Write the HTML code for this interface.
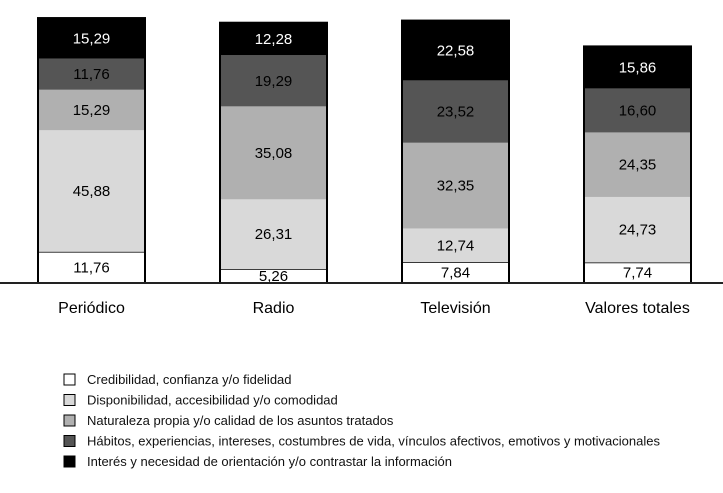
<!DOCTYPE html>
<html><head><meta charset="utf-8"><style>
body{margin:0;background:#fff}
svg{display:block;font-family:"Liberation Sans",sans-serif}
</style></head><body>
<svg id="c" width="723" height="493"></svg>
<script>
const categories=["Periódico","Radio","Televisión","Valores totales"];
const seriesNames=["Credibilidad, confianza y/o fidelidad","Disponibilidad, accesibilidad y/o comodidad","Naturaleza propia y/o calidad de los asuntos tratados","Hábitos, experiencias, intereses, costumbres de vida, vínculos afectivos, emotivos y motivacionales","Interés y necesidad de orientación y/o contrastar la información"];
const credibilidad=[11.76,5.26,7.84,7.74];
const disponibilidad=[45.88,26.31,12.74,24.73];
const naturaleza=[15.29,35.08,32.35,24.35];
const habitos=[11.76,19.29,23.52,16.60];
const interes=[15.29,12.28,22.58,15.86];
const series=[credibilidad,disponibilidad,naturaleza,habitos,interes];
const colors=["#ffffff","#d9d9d9","#b0b0b0","#555555","#000000"];
const textColors=["#000","#000","#000","#000","#fff"];
const NS="http://www.w3.org/2000/svg";
const svg=document.getElementById("c");
const base=283, k=2.65, x0=38, step=182, bw=107;
const yScale=v=>base-v*k;
const xScale=i=>x0+i*step;
function el(t,a){const e=document.createElementNS(NS,t);for(const n in a)e.setAttribute(n,a[n]);svg.appendChild(e);return e;}
categories.forEach((c,i)=>{
  let cum=0;const x=xScale(i);
  series.forEach((s,j)=>{
    const v=s[i];const y1=yScale(cum+v),y0=yScale(cum);
    const r=el("rect",{x:x,y:y1,width:bw,height:y0-y1,fill:colors[j],stroke:"#000","stroke-width":j===0?1.5:0});
    
    
    cum+=v;
  });
  const top=yScale(cum);
  const o=el("rect",{x:x,y:top,width:bw,height:base-top,fill:"none",stroke:"#000","stroke-width":2});
  
  
  cum=0;
  series.forEach((s,j)=>{
    const v=s[i];const yc=Math.min((yScale(cum)+yScale(cum+v))/2+5,base-2);
    const t=el("text",{x:x+bw/2,y:yc,"text-anchor":"middle","font-size":15,fill:textColors[j]});
    t.textContent=v.toFixed(2).replace(".",",");
    
    
    cum+=v;
  });
  const l=el("text",{x:x+bw/2,y:313,"text-anchor":"middle","font-size":16,fill:"#000"});
  l.textContent=c;
  
  
});
const ax=el("line",{x1:0,x2:723,y1:base,y2:base,stroke:"#222","stroke-width":2});


seriesNames.forEach((n,j)=>{
  const y=379+j*20.5;
  const sq=el("rect",{x:64,y:y-5,width:11,height:11,fill:colors[j],stroke:"#000","stroke-width":1});
  
  
  const t=el("text",{x:87,y:y+5,"font-size":13,fill:"#111"});
  t.textContent=n;
  
  
});
</script>
</body></html>
